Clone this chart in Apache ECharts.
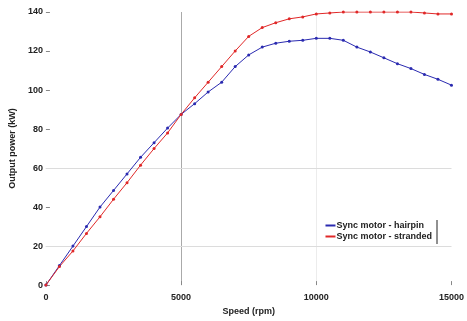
<!DOCTYPE html>
<html>
<head>
<meta charset="utf-8">
<script src="https://cdn.jsdelivr.net/npm/echarts@6/dist/echarts.min.js"></script>
<style>
  html, body { margin: 0; padding: 0; background: #fff; }
  #main { width: 467px; height: 321px; }
</style>
</head>
<body>
<div id="main"></div>
<script>
// speed in rpm, every 500
const speed = [];
for (let s = 0; s <= 15000; s += 500) speed.push(s);
// output power (kW)
const hairpin = [0, 10, 20, 30, 40, 48.5, 57, 65.5, 73, 80.5, 87.5, 93, 99, 104, 112, 118, 122, 124, 125, 125.5,
  126.5, 126.5, 125.5, 122, 119.5, 116.5, 113.5, 111, 108, 105.5, 102.5];
const stranded = [0, 9.5, 17.5, 26.5, 35, 44, 52.5, 61.5, 70, 78, 87.5, 96, 104, 112, 120, 127.5, 132, 134.5, 136.5, 137.5,
  139, 139.5, 140, 140, 140, 140, 140, 140, 139.5, 139, 139];
const seriesNames = ["Sync motor - hairpin", "Sync motor - stranded"];
// only these horizontal grid lines show in the original
const gridLevels = [20, 60];

const pair = (arr) => arr.map((v, i) => [speed[i], v]);

let myChart = echarts.init(document.getElementById("main"));
myChart.setOption({
  animation: false,
  textStyle: { fontFamily: "Liberation Sans, Arial, sans-serif" },
  grid: { left: 38, right: 12, top: 12, bottom: 28 },
  legend: {
    orient: "vertical",
    right: 30,
    top: 216,
    itemWidth: 10,
    itemHeight: 2,
    itemGap: 2,
    icon: "rect",
    textStyle: { fontSize: 9, color: "#222", fontWeight: "bold", padding: [0, 0, 0, -4] },
    data: seriesNames,
  },
  xAxis: {
    type: "value",
    min: 0,
    max: 15000,
    interval: 5000,
    name: "Speed (rpm)",
    nameLocation: "middle",
    nameGap: 21,
    nameTextStyle: { fontSize: 9, color: "#222", fontWeight: "bold" },
    axisLine: { show: false },
    axisTick: { show: true, inside: true, length: 4, lineStyle: { color: "#888" } },
    axisLabel: { fontSize: 9, color: "#222", fontWeight: "bold", margin: 8, formatter: (v) => String(v) },
    splitLine: { show: true, lineStyle: { color: ["#fff", "#aaa", "#ececec", "#fff"], width: 1 } },
  },
  yAxis: {
    type: "value",
    min: 0,
    max: 140,
    interval: 20,
    name: "Output power (kW)",
    nameLocation: "middle",
    nameGap: 20,
    nameTextStyle: { fontSize: 9, color: "#222", fontWeight: "bold" },
    axisLine: { show: false },
    axisTick: { show: true, inside: true, length: 4, lineStyle: { color: "#888" } },
    axisLabel: { fontSize: 9, color: "#222", fontWeight: "bold", margin: 3 },
    splitLine: { show: false },
  },
  graphic: [
    { type: "line", shape: { x1: 437, y1: 220, x2: 437, y2: 244 }, style: { stroke: "#222", lineWidth: 1 } },
  ],
  series: [
    {
      name: seriesNames[0],
      type: "line",
      data: pair(hairpin),
      symbol: "circle",
      symbolSize: 3,
      z: 3,
      lineStyle: { width: 1, color: "#2a2ab0" },
      itemStyle: { color: "#2a2ab0" },
      markLine: {
        silent: true,
        symbol: "none",
        label: { show: false },
        lineStyle: { color: "#dcdcdc", type: "solid", width: 1 },
        data: gridLevels.map((v) => ({ yAxis: v })),
        z: 1,
      },
    },
    {
      name: seriesNames[1],
      type: "line",
      data: pair(stranded),
      symbol: "circle",
      symbolSize: 3,
      z: 3,
      lineStyle: { width: 1, color: "#e02828" },
      itemStyle: { color: "#e02828" },
    },
  ],
});
</script>
</body>
</html>
